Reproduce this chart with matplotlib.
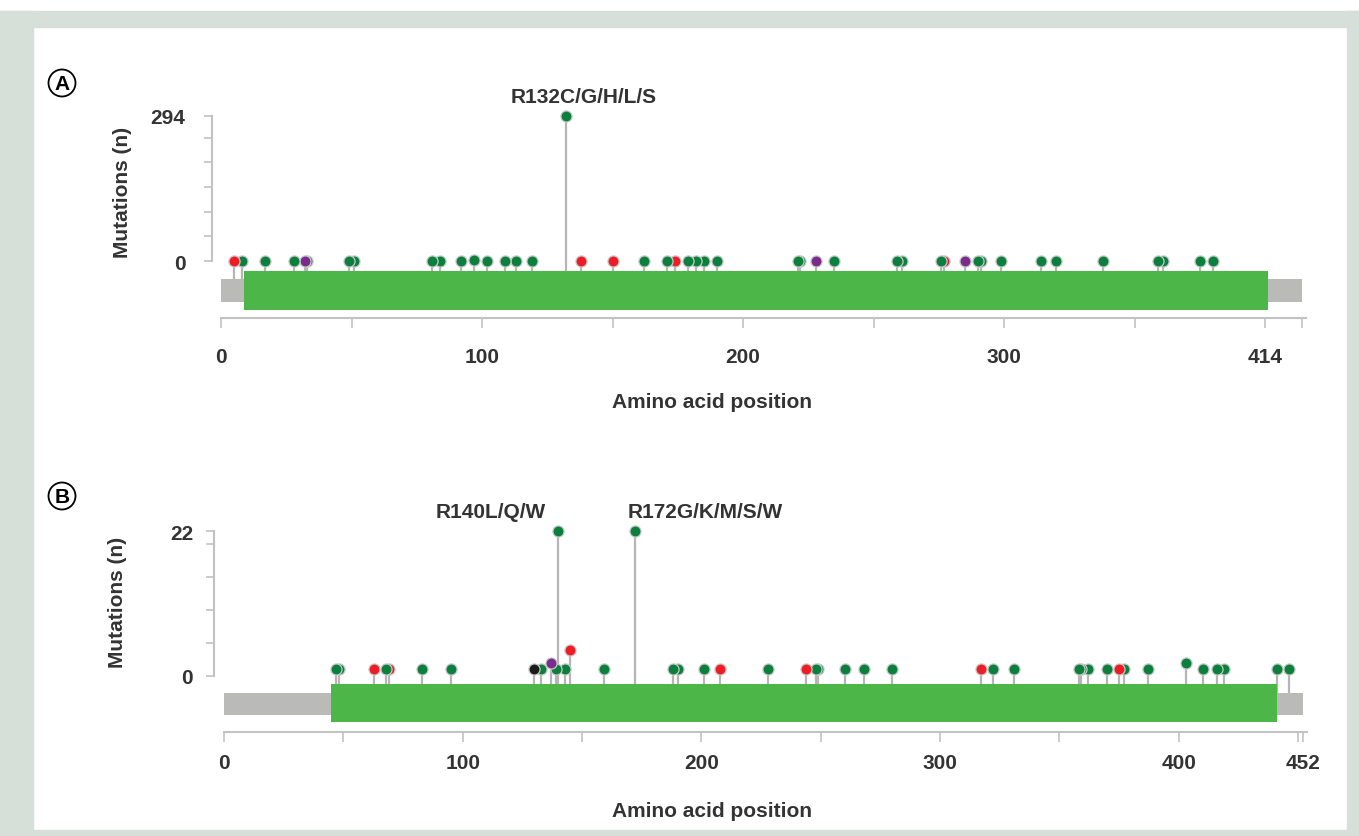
import matplotlib
matplotlib.use("Agg")
import matplotlib.pyplot as plt
from matplotlib.patches import Rectangle, Circle

plt.rcParams['font.family'] = ['Liberation Sans', 'DejaVu Sans']

W, H = 1359, 837
DPI = 100

# ---------------- data ----------------
# Panel A (IDH1, 414 aa)
A_len = 414
A_domain = [9, 401]
A_pos = [5, 8, 17, 28, 33, 32, 49, 51, 81, 84, 92, 97, 102, 109, 113, 119, 132, 138, 150,
         162, 171, 174, 179, 182, 185, 190, 221, 222, 228, 235, 259, 261, 277, 276, 285,
         290, 291, 299, 314, 320, 338, 359, 361, 375, 380]
A_count = [1, 1, 1, 1, 1, 1, 1, 1, 1, 1, 1, 3, 1, 1, 1, 1, 294, 1, 1,
           1, 1, 1, 1, 1, 1, 1, 1, 1, 1, 1, 1, 1, 1, 1, 1,
           1, 1, 1, 1, 1, 1, 1, 1, 1, 1]
A_type = ['T', 'M', 'M', 'M', 'M', 'I', 'M', 'M', 'M', 'M', 'M', 'M', 'M', 'M', 'M', 'M', 'M', 'T', 'T',
          'M', 'M', 'T', 'M', 'M', 'M', 'M', 'M', 'M', 'I', 'M', 'M', 'M', 'T', 'M', 'I',
          'M', 'M', 'M', 'M', 'M', 'M', 'M', 'M', 'M', 'M']
A_yticks = [0, 50, 100, 150, 200, 250, 294]
A_yticklabels = ['0', '', '', '', '', '', '294']
A_xticks = [0, 50, 100, 150, 200, 250, 300, 350, 400, 414]
A_xticklabels = ['0', '', '100', '', '200', '', '300', '', '414', '']
A_hot = [(132, 'R132C/G/H/L/S')]

# Panel B (IDH2, 452 aa)
B_len = 452
B_domain = [45, 441]
B_pos = [47, 48, 63, 68, 69, 83, 95, 130, 133, 137, 139, 140, 143, 145, 159, 172, 188, 190,
         201, 208, 228, 244, 248, 249, 260, 268, 280, 317, 322, 331, 358, 359, 362, 370,
         375, 377, 387, 403, 410, 416, 419, 441, 446]
B_count = [1, 1, 1, 1, 1, 1, 1, 1, 1, 2, 1, 22, 1, 4, 1, 22, 1, 1,
           1, 1, 1, 1, 1, 1, 1, 1, 1, 1, 1, 1, 1, 1, 1, 1,
           1, 1, 1, 2, 1, 1, 1, 1, 1]
B_type = ['M', 'M', 'T', 'M', 'T', 'M', 'M', 'O', 'M', 'I', 'M', 'M', 'M', 'T', 'M', 'M', 'M', 'M',
          'M', 'T', 'M', 'T', 'M', 'M', 'M', 'M', 'M', 'T', 'M', 'M', 'M', 'M', 'M', 'M',
          'T', 'M', 'M', 'M', 'M', 'M', 'M', 'M', 'M']
B_yticks = [0, 5, 10, 15, 20, 22]
B_yticklabels = ['0', '', '', '', '', '22']
B_xticks = [0, 50, 100, 150, 200, 250, 300, 350, 400, 450, 452]
B_xticklabels = ['0', '', '100', '', '200', '', '300', '', '400', '', '452']
B_hot = [(140, 'R140L/Q/W'), (172, 'R172G/K/M/S/W')]

# ---------------- style ----------------
COL = {'M': '#0b7f3c', 'T': '#ee1c25', 'I': '#7b2b8b', 'O': '#1a1a1a'}
TXT = '#333333'
AXC = '#c2c2c2'
STEM = '#b5b5b5'
DOMAIN = '#4cb748'
BACK = '#babab6'
FRAME = '#d6e0d9'

fig = plt.figure(figsize=(W / DPI, H / DPI), dpi=DPI, facecolor='white')

# frame bands
def fig_rect(x0, y0, x1, y1, color):
    fig.patches.append(Rectangle((x0 / W, 1 - y1 / H), (x1 - x0) / W, (y1 - y0) / H,
                                 transform=fig.transFigure, color=color, zorder=0))

fig_rect(0, 12, W, 28, FRAME)
fig_rect(0, 12, 33, H, FRAME)
fig_rect(1347, 12, W, H, FRAME)
fig_rect(0, 831, W, H, FRAME)


def panel(letter, letter_xy, box, x0px, xs, y0px, ys, length, domain, pos, cnt, typ,
          yticks, yticklabels, xticks, xticklabels, hot, green_px, gray_px,
          ylab_xy, xlab_xy, ypad, xpad, hot_offsets):
    left, right, top, bottom = box
    ax = fig.add_axes([left / W, 1 - bottom / H, (right - left) / W, (bottom - top) / H])
    ax.set_xlim((left - x0px) / xs, (right - x0px) / xs)
    ax.set_ylim((y0px - bottom) / ys, (y0px - top) / ys)
    ax.patch.set_alpha(0)

    def ypx(p):
        return (y0px - p) / ys

    stem_bottom = ypx(gray_px[0])
    # stems
    ax.vlines(pos, stem_bottom, cnt, colors=STEM, linewidth=1.6, zorder=1)
    # backbone & domain
    ax.add_patch(Rectangle((0, ypx(gray_px[1])), length, ypx(gray_px[0]) - ypx(gray_px[1]),
                           color=BACK, lw=0, zorder=2))
    ax.add_patch(Rectangle((domain[0], ypx(green_px[1])), domain[1] - domain[0],
                           ypx(green_px[0]) - ypx(green_px[1]), color=DOMAIN, lw=0, zorder=3))
    # heads: leftmost on top
    order = sorted(range(len(pos)), key=lambda i: -pos[i])
    for i in order:
        ax.plot(pos[i], cnt[i], 'o', ms=8, mfc=COL[typ[i]], mec='#c9c9c9', mew=0.9,
                zorder=4, clip_on=False)
    # hotspot labels
    for (p, lab), (dx, ha) in zip(hot, hot_offsets):
        c = cnt[pos.index(p)]
        ax.annotate(lab, (p, c), xytext=(dx, 7), textcoords='offset points', ha=ha,
                    va='bottom', fontsize=15, fontweight='bold', color=TXT)

    for s in ['top', 'right']:
        ax.spines[s].set_visible(False)
    ax.spines['left'].set_bounds(0, yticks[-1])
    ax.spines['left'].set_color(AXC)
    ax.spines['left'].set_linewidth(1.5)
    ax.spines['bottom'].set_bounds(0, ax.get_xlim()[1])
    ax.spines['bottom'].set_color(AXC)
    ax.spines['bottom'].set_linewidth(1.5)
    ax.set_yticks(yticks)
    ax.set_yticklabels(yticklabels)
    ax.set_xticks(xticks)
    ax.set_xticklabels(xticklabels)
    ax.tick_params(axis='y', length=6, width=1.2, color=AXC, pad=ypad, labelsize=15,
                   labelcolor=TXT)
    ax.tick_params(axis='x', length=7, width=1.2, color=AXC, pad=xpad, labelsize=15,
                   labelcolor=TXT)
    for t in ax.get_xticklabels() + ax.get_yticklabels():
        t.set_fontweight('bold')

    fig.text(ylab_xy[0] / W, 1 - ylab_xy[1] / H, 'Mutations (n)', rotation=90, ha='center',
             va='center', fontsize=15, fontweight='bold', color=TXT)
    fig.text(xlab_xy[0] / W, 1 - xlab_xy[1] / H, 'Amino acid position', ha='center',
             va='center', fontsize=15, fontweight='bold', color=TXT)
    # circled letter
    cx, cy = letter_xy
    circ = Circle((cx / DPI, (H - cy) / DPI), 13.5 / DPI, transform=fig.dpi_scale_trans,
                  fill=False, ec='black', lw=1.3)
    fig.patches.append(circ)
    fig.text(cx / W, 1 - (cy + 1) / H, letter, ha='center', va='center', fontsize=15,
             fontweight='bold', color='black')
    return ax


panel('A', (62, 84), (212, 1306, 60, 319), 221, 2.61, 262, 0.4932, A_len, A_domain,
      A_pos, A_count, A_type, A_yticks, A_yticklabels, A_xticks, A_xticklabels, A_hot,
      (272, 311), (280, 303), (122, 192), (712, 403), 13, 14, [(13, 'center')])

panel('B', (62, 497), (214, 1307, 470, 733), 224, 2.387, 677, 6.59, B_len, B_domain,
      B_pos, B_count, B_type, B_yticks, B_yticklabels, B_xticks, B_xticklabels, B_hot,
      (685, 723), (694, 716), (118, 602), (712, 812), 9, 8, [(-9, 'right'), (-5, 'left')])

fig.savefig('out.png', dpi=DPI, facecolor='white')
